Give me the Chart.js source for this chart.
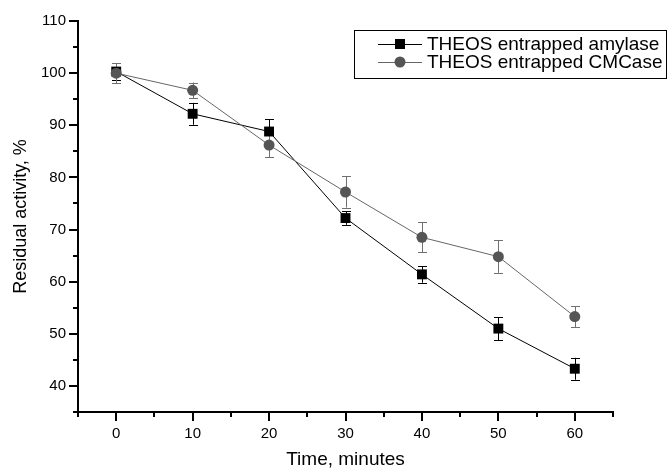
<!DOCTYPE html>
<html>
<head>
<meta charset="utf-8">
<script src="https://cdn.jsdelivr.net/npm/chart.js@4.4.1/dist/chart.umd.min.js"></script>
<style>
  html, body { margin:0; padding:0; background:#fff; }
  #wrap { width:670px; height:470px; }
</style>
</head>
<body>
<div id="wrap"><canvas id="chart" width="670" height="470"></canvas></div>
<script>
/* === DATA === */
const times = [0, 10, 20, 30, 40, 50, 60];
const amylase = [100.3, 92.2, 88.8, 72.2, 61.4, 51.0, 43.3];
const amylaseErr = [1.6, 2.1, 2.4, 1.3, 1.6, 2.2, 2.1];
const cmcase = [100.0, 96.7, 86.2, 77.2, 68.5, 64.8, 53.3];
const cmcaseErr = [1.9, 1.5, 2.3, 3.0, 2.9, 3.1, 2.0];
const seriesNames = ["THEOS entrapped amylase", "THEOS entrapped CMCase"];
const xLabel = "Time, minutes";
const yLabel = "Residual activity, %";

const FONT = "'Liberation Sans', Arial, sans-serif";

/* === ERROR BARS === */
const errorBars = {
  id: "errorBars",
  beforeDatasetsDraw(chart){
    const ctx = chart.ctx, xs = chart.scales.x, ys = chart.scales.y;
    chart.data.datasets.forEach(ds => {
      ctx.save();
      ctx.strokeStyle = ds.errColor; ctx.lineWidth = 1;
      ds.data.forEach((p, i) => {
        const e = ds.errors[i];
        const px = Math.round(xs.getPixelForValue(p.x)) + 0.5;
        const top = ys.getPixelForValue(p.y + e), bot = ys.getPixelForValue(p.y - e);
        ctx.beginPath();
        ctx.moveTo(px, top); ctx.lineTo(px, bot);
        ctx.moveTo(px - 4.5, Math.round(top) + 0.5); ctx.lineTo(px + 4.5, Math.round(top) + 0.5);
        ctx.moveTo(px - 4.5, Math.round(bot) + 0.5); ctx.lineTo(px + 4.5, Math.round(bot) + 0.5);
        ctx.stroke();
      });
      ctx.restore();
    });
  }
};

/* === TICK MARKS (major + minor, outside) === */
const tickMarks = {
  id: "tickMarks",
  afterDraw(chart){
    const ctx = chart.ctx, xs = chart.scales.x, ys = chart.scales.y;
    const a = chart.chartArea;
    ctx.save();
    ctx.strokeStyle = "#000"; ctx.lineWidth = 2;
    ctx.beginPath();
    for(let v = xs.min; v <= xs.max; v += 5){
      const px = Math.round(xs.getPixelForValue(v));
      const len = (v % 10 === 0) ? 9 : 5;
      ctx.moveTo(px, a.bottom); ctx.lineTo(px, a.bottom + len);
    }
    for(let v = ys.min; v <= ys.max; v += 5){
      const py = Math.round(ys.getPixelForValue(v));
      const len = (v % 10 === 0) ? 9 : 5;
      ctx.moveTo(a.left, py); ctx.lineTo(a.left - len, py);
    }
    ctx.stroke();
    ctx.restore();
  }
};

/* === LEGEND BOX === */
const legendBox = {
  id: "legendBox",
  afterDraw(chart){
    const ctx = chart.ctx;
    const bx = 354.5, by = 30.5, bw = 312, bh = 48;
    ctx.save();
    ctx.strokeStyle = "#000"; ctx.lineWidth = 1;
    ctx.strokeRect(bx, by, bw, bh);
    ctx.font = "19px " + FONT;
    ctx.textBaseline = "middle";
    chart.data.datasets.forEach((ds, i) => {
      const cy = 44 + i * 18;
      ctx.strokeStyle = ds.borderColor; ctx.lineWidth = 1;
      ctx.beginPath(); ctx.moveTo(378, cy + 0.5); ctx.lineTo(422, cy + 0.5); ctx.stroke();
      ctx.fillStyle = ds.pointBackgroundColor;
      ctx.beginPath();
      if(ds.pointStyle === "rect"){ ctx.rect(395, cy - 5, 10, 10); }
      else { ctx.arc(400, cy, 5.5, 0, Math.PI * 2); }
      ctx.fill();
      ctx.fillStyle = "#000";
      ctx.fillText(ds.label, 427, cy + 1);
    });
    ctx.restore();
  }
};

const ctx = document.getElementById("chart").getContext("2d");
new Chart(ctx, {
  type: "line",
  data: {
    datasets: [
      {
        label: seriesNames[0],
        data: times.map((t, i) => ({x: t, y: amylase[i]})),
        errors: amylaseErr, errColor: "#000",
        borderColor: "#000", borderWidth: 1,
        pointStyle: "rect", pointRadius: 7, pointBorderWidth: 0,
        pointBackgroundColor: "#000", pointBorderColor: "#000",
        tension: 0, order: 1
      },
      {
        label: seriesNames[1],
        data: times.map((t, i) => ({x: t, y: cmcase[i]})),
        errors: cmcaseErr, errColor: "#707070",
        borderColor: "#666", borderWidth: 1,
        pointStyle: "circle", pointRadius: 5.5, pointBorderWidth: 0,
        pointBackgroundColor: "#555", pointBorderColor: "#555",
        tension: 0, order: 0
      }
    ]
  },
  options: {
    responsive: false,
    animation: false,
    layout: { padding: { left: 0, top: 21, right: 57, bottom: 0 } },
    plugins: { legend: { display: false }, tooltip: { enabled: false } },
    scales: {
      x: {
        type: "linear", min: -5, max: 65,
        afterFit(s){ s.height = 58; },
        grid: { display: false, drawTicks: false },
        border: { display: true, color: "#000", width: 2 },
        ticks: {
          stepSize: 5, padding: 13, color: "#000", maxRotation: 0, autoSkip: false,
          font: { family: FONT, size: 15 },
          callback: v => (v % 10 === 0 && v >= 0 && v <= 60) ? v : ""
        },
        title: { display: true, text: xLabel, color: "#000",
          font: { family: FONT, size: 19, lineHeight: 1 }, padding: { top: 0, bottom: 1 } }
      },
      y: {
        min: 35, max: 110,
        afterFit(s){ s.width = 78; },
        grid: { display: false, drawTicks: false },
        border: { display: true, color: "#000", width: 2 },
        ticks: {
          stepSize: 5, padding: 12, color: "#000", autoSkip: false,
          font: { family: FONT, size: 15 },
          callback: v => (v % 10 === 0) ? v : ""
        },
        title: { display: true, text: yLabel, color: "#000",
          font: { family: FONT, size: 18, lineHeight: 1.2 }, padding: { top: 10, bottom: 0 } }
      }
    }
  },
  plugins: [errorBars, tickMarks, legendBox]
});
</script>
</body>
</html>
